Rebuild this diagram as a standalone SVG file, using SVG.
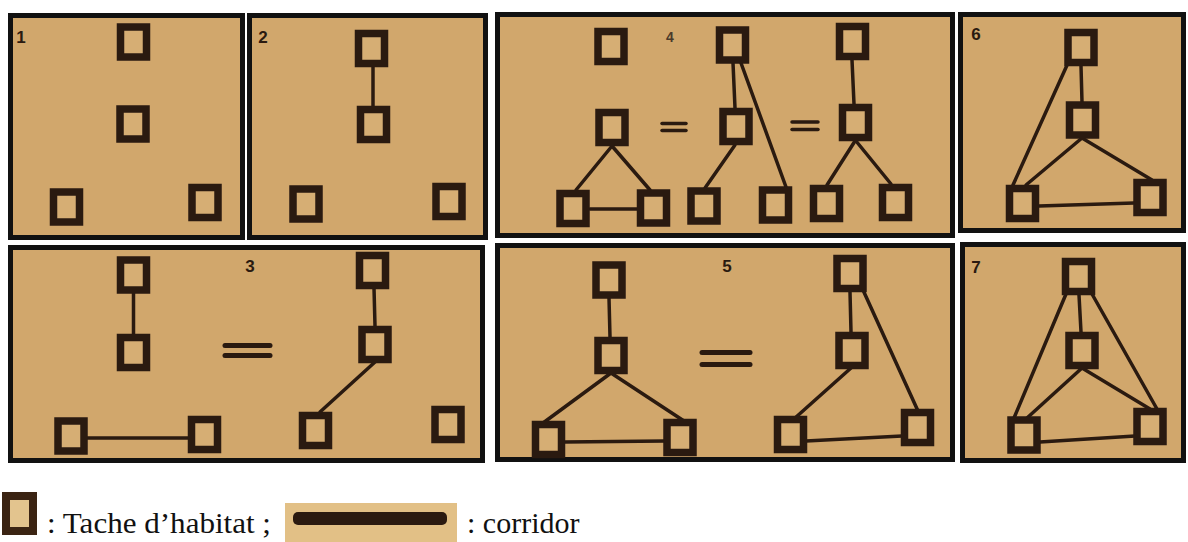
<svg xmlns="http://www.w3.org/2000/svg" width="1188" height="542" viewBox="0 0 1188 542">
<style>
.panel{fill:#d1a76c;stroke:#111;stroke-width:5}
.patch{fill:#d6ae74;stroke:#2a1a10;stroke-width:7.5}
.cor{stroke:#2a1a10;stroke-width:3.5;stroke-linecap:round;fill:none}
.eq{stroke:#2a1a10;stroke-linecap:round}
.num{font-family:"Liberation Sans",Arial,sans-serif;font-weight:bold;font-size:17px;fill:#2a1a10;text-anchor:middle}
.leg{font-family:"Liberation Serif","Times New Roman",serif;font-size:30px;fill:#111}
</style>
<rect width="1188" height="542" fill="#fff"/>
<g id="panels">
<rect id="panel-1" class="panel" x="10.5" y="15.5" width="232" height="222"/>
<rect id="panel-2" class="panel" x="249.5" y="15.5" width="236" height="222"/>
<rect id="panel-4" class="panel" x="497.5" y="14.5" width="455" height="221"/>
<rect id="panel-6" class="panel" x="960.5" y="14.5" width="223" height="216"/>
<rect id="panel-3" class="panel" x="10.5" y="247.5" width="472" height="213"/>
<rect id="panel-5" class="panel" x="497.5" y="245.5" width="455" height="214"/>
<rect id="panel-7" class="panel" x="962.5" y="244.5" width="221" height="216"/>
</g>
<g id="labels">
<text class="num" x="21" y="43">1</text>
<text class="num" x="263" y="43">2</text>
<text class="num" x="250" y="272">3</text>
<text class="num" x="670" y="42" style="font-size:14px;fill:#4a3a2a">4</text>
<text class="num" x="727" y="272">5</text>
<text class="num" x="976" y="40">6</text>
<text class="num" x="976" y="273">7</text>
</g>
<g id="connectors">
<line class="cor" x1="373" y1="67" x2="373" y2="106"/>
<line class="cor" x1="612" y1="146" x2="576" y2="190"/>
<line class="cor" x1="612" y1="146" x2="650" y2="190"/>
<line class="cor" x1="590" y1="209" x2="637" y2="209"/>
<line class="cor" x1="733" y1="63" x2="735" y2="108"/>
<line class="cor" x1="741" y1="63" x2="786" y2="187"/>
<line class="cor" x1="735" y1="145" x2="705" y2="188"/>
<line class="cor" x1="852" y1="60" x2="854" y2="104"/>
<line class="cor" x1="855" y1="141" x2="827" y2="185"/>
<line class="cor" x1="856" y1="141" x2="891" y2="184"/>
<line class="cor" x1="1081" y1="66" x2="1082" y2="102"/>
<line class="cor" x1="1068" y1="63" x2="1013" y2="185"/>
<line class="cor" x1="1082" y1="138" x2="1026" y2="185"/>
<line class="cor" x1="1082" y1="138" x2="1152" y2="180"/>
<line class="cor" x1="1039" y1="206" x2="1134" y2="203"/>
<line class="cor" x1="133.5" y1="293" x2="133.5" y2="334"/>
<line class="cor" x1="87" y1="438" x2="188" y2="438"/>
<line class="cor" x1="374" y1="288" x2="375" y2="326"/>
<line class="cor" x1="375" y1="362" x2="320" y2="412"/>
<line class="cor" x1="609" y1="298" x2="610" y2="337"/>
<line class="cor" x1="611" y1="373" x2="543" y2="423"/>
<line class="cor" x1="611" y1="373" x2="684" y2="421"/>
<line class="cor" x1="564" y1="442" x2="665" y2="441"/>
<line class="cor" x1="850" y1="292" x2="851" y2="332"/>
<line class="cor" x1="863" y1="290" x2="918" y2="411"/>
<line class="cor" x1="851" y1="368" x2="795" y2="418"/>
<line class="cor" x1="806" y1="441" x2="902" y2="436"/>
<line class="cor" x1="1079" y1="295" x2="1081" y2="332"/>
<line class="cor" x1="1066" y1="294" x2="1014" y2="418"/>
<line class="cor" x1="1092" y1="294" x2="1157" y2="409"/>
<line class="cor" x1="1082" y1="368" x2="1027" y2="418"/>
<line class="cor" x1="1082" y1="368" x2="1150" y2="409"/>
<line class="cor" x1="1040" y1="442" x2="1135" y2="436"/>
</g>
<g id="equals">
<line class="eq" x1="225" y1="345.5" x2="270" y2="345.5" stroke-width="5"/>
<line class="eq" x1="225" y1="355.5" x2="270" y2="355.5" stroke-width="5"/>
<line class="eq" x1="662" y1="123.5" x2="686" y2="123.5" stroke-width="3.5"/>
<line class="eq" x1="662" y1="130.5" x2="686" y2="130.5" stroke-width="3.5"/>
<line class="eq" x1="792" y1="122" x2="818" y2="122" stroke-width="3.5"/>
<line class="eq" x1="792" y1="129.5" x2="818" y2="129.5" stroke-width="3.5"/>
<line class="eq" x1="702" y1="352.5" x2="750" y2="352.5" stroke-width="5"/>
<line class="eq" x1="702" y1="364.5" x2="750" y2="364.5" stroke-width="5"/>
</g>
<g id="p1-top"><rect class="patch" x="120.5" y="27" width="26" height="30"/></g>
<g id="p1-mid"><rect class="patch" x="120" y="109" width="26" height="30"/></g>
<g id="p1-bl"><rect class="patch" x="53.5" y="192" width="26" height="30"/></g>
<g id="p1-br"><rect class="patch" x="192" y="187.5" width="26" height="30"/></g>
<g id="p2-top"><rect class="patch" x="358.5" y="33.5" width="26" height="30"/></g>
<g id="p2-mid"><rect class="patch" x="360.5" y="109.5" width="26" height="30"/></g>
<g id="p2-bl"><rect class="patch" x="293" y="189" width="26" height="30"/></g>
<g id="p2-br"><rect class="patch" x="436" y="186.5" width="26" height="30"/></g>
<g id="p4-tl"><rect class="patch" x="598" y="31.5" width="26" height="30"/></g>
<g id="p4-tm"><rect class="patch" x="719.5" y="30" width="26" height="30"/></g>
<g id="p4-tr"><rect class="patch" x="839.5" y="26.5" width="26" height="30"/></g>
<g id="p4-ml"><rect class="patch" x="599" y="112.5" width="26" height="30"/></g>
<g id="p4-mm"><rect class="patch" x="723" y="111.5" width="26" height="30"/></g>
<g id="p4-mr"><rect class="patch" x="842.5" y="107.5" width="26" height="30"/></g>
<g id="p4-b1"><rect class="patch" x="560" y="193.5" width="26" height="30"/></g>
<g id="p4-b2"><rect class="patch" x="640.5" y="193" width="26" height="30"/></g>
<g id="p4-b3"><rect class="patch" x="691" y="191" width="26" height="30"/></g>
<g id="p4-b4"><rect class="patch" x="762.5" y="190" width="26" height="30"/></g>
<g id="p4-b5"><rect class="patch" x="813.5" y="188.5" width="26" height="30"/></g>
<g id="p4-b6"><rect class="patch" x="882.5" y="187.5" width="26" height="30"/></g>
<g id="p6-top"><rect class="patch" x="1068" y="32.5" width="26" height="30"/></g>
<g id="p6-mid"><rect class="patch" x="1069.5" y="105" width="26" height="30"/></g>
<g id="p6-bl"><rect class="patch" x="1009.5" y="188.5" width="26" height="30"/></g>
<g id="p6-br"><rect class="patch" x="1137" y="182.5" width="26" height="30"/></g>
<g id="p3-tl"><rect class="patch" x="120.5" y="260" width="26" height="30"/></g>
<g id="p3-ml"><rect class="patch" x="120.5" y="337.5" width="26" height="30"/></g>
<g id="p3-bl1"><rect class="patch" x="58" y="421" width="26" height="30"/></g>
<g id="p3-br1"><rect class="patch" x="191.5" y="419.5" width="26" height="30"/></g>
<g id="p3-tr"><rect class="patch" x="359.5" y="255.5" width="26" height="30"/></g>
<g id="p3-mr"><rect class="patch" x="362" y="329.5" width="26" height="30"/></g>
<g id="p3-bl2"><rect class="patch" x="302.5" y="415.5" width="26" height="30"/></g>
<g id="p3-br2"><rect class="patch" x="435" y="409.5" width="26" height="30"/></g>
<g id="p5-lt"><rect class="patch" x="596" y="265" width="26" height="30"/></g>
<g id="p5-lm"><rect class="patch" x="598" y="340.5" width="26" height="30"/></g>
<g id="p5-lbl"><rect class="patch" x="535.5" y="424.5" width="26" height="30"/></g>
<g id="p5-lbr"><rect class="patch" x="667" y="422.5" width="26" height="30"/></g>
<g id="p5-rt"><rect class="patch" x="837" y="258.5" width="26" height="30"/></g>
<g id="p5-rm"><rect class="patch" x="839" y="335.5" width="26" height="30"/></g>
<g id="p5-rbl"><rect class="patch" x="777.5" y="419.5" width="26" height="30"/></g>
<g id="p5-rbr"><rect class="patch" x="904.5" y="412.5" width="26" height="30"/></g>
<g id="p7-top"><rect class="patch" x="1065.5" y="261.5" width="26" height="30"/></g>
<g id="p7-mid"><rect class="patch" x="1069" y="335.5" width="26" height="30"/></g>
<g id="p7-bl"><rect class="patch" x="1011" y="420" width="26" height="30"/></g>
<g id="p7-br"><rect class="patch" x="1137" y="411.5" width="26" height="30"/></g>
<g id="legend">
<rect x="6" y="496" width="27" height="35" fill="#e3c48e" stroke="#3b2413" stroke-width="8"/>
<text class="leg" x="47" y="533" textLength="224" lengthAdjust="spacingAndGlyphs">: Tache d’habitat ;</text>
<rect x="285" y="503" width="172" height="39" fill="#e2c086"/>
<rect x="293" y="512" width="154" height="13" rx="5" fill="#2b1a10"/>
<text class="leg" x="467" y="533">: corridor</text>
</g>
</svg>
